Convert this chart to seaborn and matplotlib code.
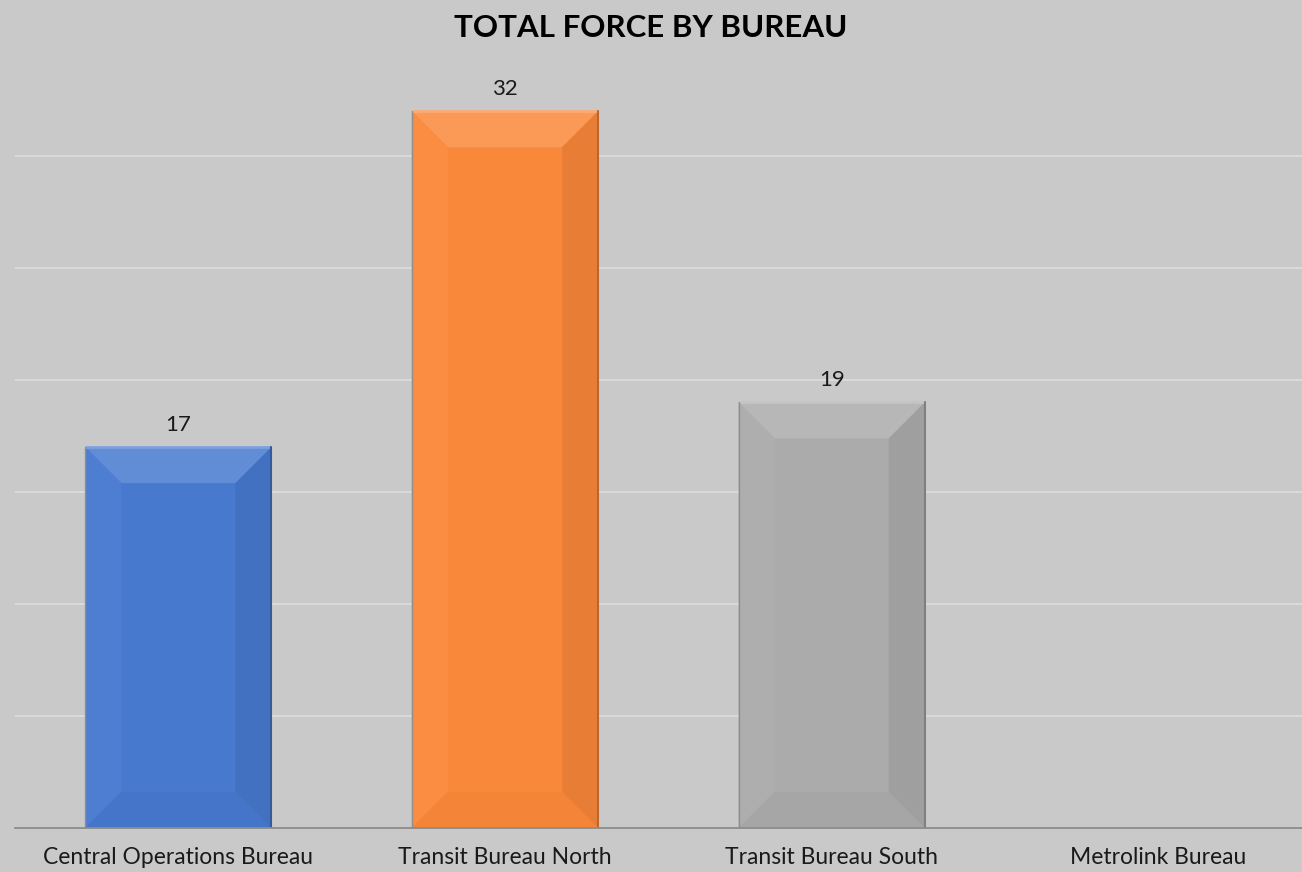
import numpy as np
import pandas as pd
import matplotlib
matplotlib.use('Agg')
import matplotlib.pyplot as plt
import seaborn as sns
from matplotlib.patches import Polygon
from matplotlib.colors import to_rgb

# Datos del grafico
bureaus = ['Central Operations Bureau', 'Transit Bureau North', 'Transit Bureau South', 'Metrolink Bureau']
total_force = [17, 32, 19, 0]
colores = ['#4779CF', '#FA883A', '#ABABAB', '#FFC000']

df = pd.DataFrame({'bureau': bureaus, 'total': total_force})

sns.set_style('white')
plt.rcParams['font.family'] = ['Lato', 'DejaVu Sans']

fondo = '#C9C9C9'
fig = plt.figure(figsize=(13.02, 8.72), dpi=100, facecolor=fondo)
ax = fig.add_axes([15 / 1302, 44 / 872, 1287 / 1302, 784 / 872])
ax.set_facecolor(fondo)

sns.barplot(data=df, x='bureau', y='total', hue='bureau', palette=colores, saturation=1,
            width=0.57, legend=False, ax=ax, zorder=3, edgecolor='none', linewidth=0)

ax.set_ylim(0, 35)
ax.set_xlim(-0.5, 3.44)
ax.set_yticks(np.arange(5, 31, 5))
ax.yaxis.grid(True, color='#DCDCDC', linewidth=1.3, zorder=0)
ax.set_axisbelow(True)
ax.tick_params(axis='y', left=False, labelleft=False)
ax.tick_params(axis='x', bottom=False, labelsize=16.5, pad=10, colors='#1A1A1A')
ax.set_xlabel('')
ax.set_ylabel('')
for s in ['top', 'right', 'left']:
    ax.spines[s].set_visible(False)
ax.spines['bottom'].set_color('#8C8C8C')
ax.spines['bottom'].set_linewidth(1.3)
ax.spines['bottom'].set_zorder(5)

fig.canvas.draw()

# Efecto de bisel sobre cada barra
bev_px = 36
inv = ax.transData.inverted()
x0d, y0d = inv.transform((0, 0))
x1d, y1d = inv.transform((bev_px, bev_px))
bx, by = x1d - x0d, y1d - y0d


def mezclar(c, f):
    r, g, b = to_rgb(c)
    if f > 0:
        return (r + (1 - r) * f, g + (1 - g) * f, b + (1 - b) * f)
    return (r * (1 + f), g * (1 + f), b * (1 + f))


for patch, col, val in zip(ax.patches, colores, total_force):
    if val <= 0:
        continue
    x = patch.get_x()
    w = patch.get_width()
    h = patch.get_height()
    xl, xr, yb, yt = x, x + w, 0, h
    caras = [
        ([(xl, yt), (xr, yt), (xr - bx, yt - by), (xl + bx, yt - by)], mezclar(col, 0.14)),
        ([(xl, yb), (xl, yt), (xl + bx, yt - by), (xl + bx, yb + by)], mezclar(col, 0.04)),
        ([(xr, yb), (xr, yt), (xr - bx, yt - by), (xr - bx, yb + by)], mezclar(col, -0.07)),
        ([(xl, yb), (xr, yb), (xr - bx, yb + by), (xl + bx, yb + by)], mezclar(col, -0.03)),
    ]
    for pts, c in caras:
        ax.add_patch(Polygon(pts, closed=True, facecolor=c, edgecolor='none', zorder=4))
    # borde superior claro y laterales oscuros
    ax.plot([xl, xr], [yt, yt], color=mezclar(col, 0.3), linewidth=2, zorder=4.5, solid_capstyle='butt')
    ax.plot([xr, xr], [yb, yt], color=mezclar(col, -0.25), linewidth=1.5, zorder=4.5)
    ax.plot([xl, xl], [yb, yt], color='#8E8E8E', linewidth=1, zorder=4.5)
    ax.annotate(f'{val}', (x + w / 2, h), xytext=(0, 9), textcoords='offset points',
                ha='center', va='bottom', fontsize=16, color='#1A1A1A')

fig.suptitle('TOTAL FORCE BY BUREAU', y=1 - 28 / 872, va='center', fontsize=22.5,
             fontweight='bold', color='black')

fig.savefig('out.png', dpi=100, facecolor=fondo)
